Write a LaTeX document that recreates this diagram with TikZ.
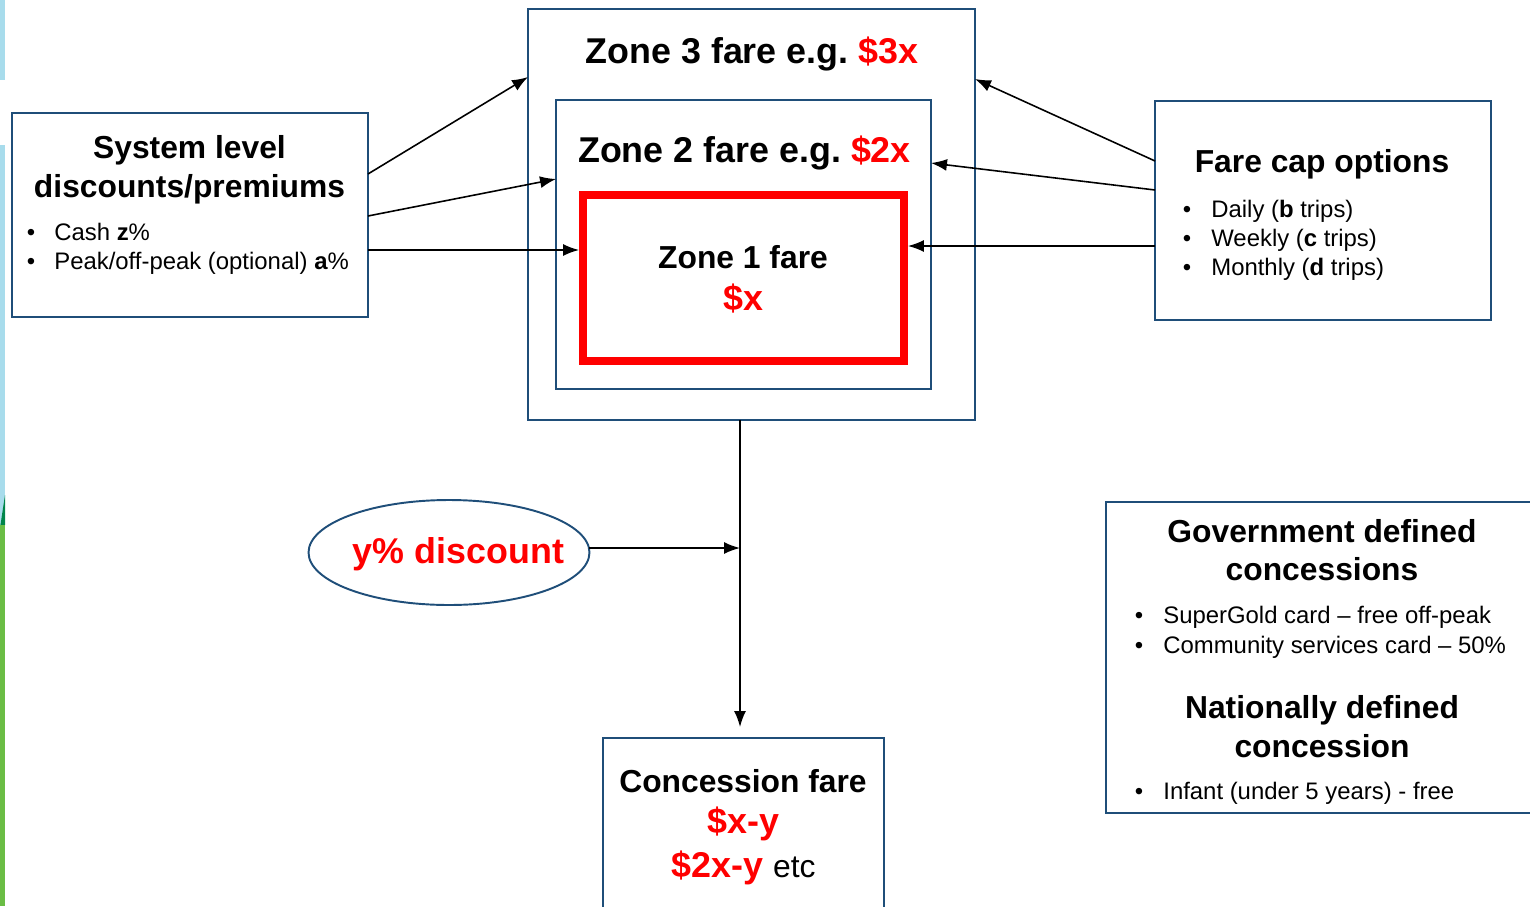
\documentclass[tikz,border=0pt]{standalone}
\usepackage{fontspec}
\setmainfont{Liberation Sans}
\usetikzlibrary{shapes.geometric,arrows.meta}
\frenchspacing

\definecolor{navy}{RGB}{31,78,121}
\definecolor{farered}{RGB}{255,0,0}
\definecolor{slideblue}{RGB}{168,220,236}
\definecolor{slidegreen}{RGB}{106,189,69}
\definecolor{slidedark}{RGB}{0,133,74}

\newcommand{\zonefont}{\fontsize{20.4pt}{24pt}\selectfont\bfseries}
\newcommand{\headfont}{\fontsize{18.1pt}{21pt}\selectfont\bfseries}
\newcommand{\itemfont}{\fontsize{13.6pt}{16pt}\selectfont}

\begin{document}
\begin{tikzpicture}[x=0.02cm,y=-0.02cm]

    % styles
    \tikzstyle{panel} = [draw=navy,line width=1.1pt,inner sep=0pt,outer sep=0pt]
    \tikzstyle{zonebox} = [draw=farered,line width=4.5pt,inner sep=0pt]
    \tikzstyle{head} = [anchor=base,inner sep=0pt,font=\headfont]
    \tikzstyle{zonehead} = [anchor=base,inner sep=0pt,font=\zonefont]
    \tikzstyle{item} = [anchor=base west,inner sep=0pt,font=\itemfont]
    \tikzstyle{dot} = [anchor=base,inner sep=0pt,font=\itemfont]
    \tikzstyle{arr} = [line width=0.9pt,-{Latex[length=3.2mm,width=2.4mm]}]

    \useasboundingbox (0,0) rectangle (1530,906);

    % slide edge
    \fill[slideblue] (0,0) rectangle (5,80);
    \fill[slideblue] (0,145) rectangle (5,525);
    \fill[slidedark] (0,528) -- (5,495) -- (5,525) -- (0,525) -- cycle;
    \fill[slidegreen] (0,525) rectangle (5,906);

    % zones
    \node[panel,minimum width=8.94cm,minimum height=8.22cm] (zone3) at (751.5,214.5) {};
    \node[panel,minimum width=7.5cm,minimum height=5.78cm] (zone2) at (743.5,244.5) {};
    \node[zonebox,minimum width=6.42cm,minimum height=3.32cm] (zone1) at (743.5,278) {};
    \node[zonehead] (z3t) at (752,63) {Zone 3 fare e.g. \textcolor{farered}{\$3x}};
    \node[zonehead] (z2t) at (744.5,162) {Zone 2 fare e.g. \textcolor{farered}{\$2x}};
    \node[head] (z1t) at (743,268) {Zone 1 fare};
    \node[head,text=farered,font=\zonefont] (z1p) at (743.5,310) {\$x};

    % system level
    \node[panel,minimum width=7.12cm,minimum height=4.08cm] (sys) at (190,215) {};
    \node[head] (syst1) at (189.5,158) {System level};
    \node[head] (syst2) at (189.5,197) {discounts/premiums};
    \node[dot] (sysd1) at (31,240) {\textbullet};
    \node[item] (sysi1) at (54,240) {Cash \textbf{z}\%};
    \node[dot] (sysd2) at (31,269) {\textbullet};
    \node[item] (sysi2) at (54,269) {Peak/off-peak (optional) \textbf{a}\%};

    % fare caps
    \node[panel,minimum width=6.72cm,minimum height=4.38cm] (cap) at (1323,210.5) {};
    \node[head] (capt) at (1322,172) {Fare cap options};
    \foreach \i/\txt in {0/{Daily (\textbf{b} trips)},1/{Weekly (\textbf{c} trips)},2/{Monthly (\textbf{d} trips)}} {
        \node[dot] (capd\i) at (1187,217+\i*29) {\textbullet};
        \node[item] (capi\i) at (1211,217+\i*29) {\txt};
    }

    % concessions
    \node[panel,minimum width=8.78cm,minimum height=6.22cm] (gov) at (1325.5,657.5) {};
    \node[head] (govt1) at (1322,542) {Government defined};
    \node[head] (govt2) at (1322,580) {concessions};
    \node[dot] (govd1) at (1139,623) {\textbullet};
    \node[item] (govi1) at (1163,623) {SuperGold card -- free off-peak};
    \node[dot] (govd2) at (1139,653) {\textbullet};
    \node[item] (govi2) at (1163,653) {Community services card -- 50\%};
    \node[head] (natt1) at (1322,718) {Nationally defined};
    \node[head] (natt2) at (1322,757) {concession};
    \node[dot] (natd1) at (1139,799) {\textbullet};
    \node[item] (nati1) at (1163,799) {Infant (under 5 years) - free};

    % discount and result
    \node[panel,ellipse,minimum width=5.62cm,minimum height=2.1cm] (disc) at (449,552.5) {};
    \node[zonehead,text=farered] (disct) at (458.5,563) {y\% discount};
    \node[panel,minimum width=5.62cm,minimum height=3.64cm] (conc) at (743.5,829) {};
    \node[head] (conct) at (743,792) {Concession fare};
    \node[zonehead,text=farered] (concx) at (743.5,833) {\$x-y};
    \node[zonehead] (conc2) at (743.5,877) {\textcolor{farered}{\$2x-y} \fontsize{18.1pt}{21pt}\selectfont\mdseries etc};

    % arrows
    \coordinate (drop) at (740,727);
    \draw[arr] (sys.east |- 0,174) -- (zone3.west |- 0,77);
    \draw[arr] (sys.east |- 0,216) -- (zone2.west |- 0,179);
    \draw[arr] (sys.east |- 0,250) -- (zone1.west |- 0,250);
    \draw[arr] (cap.west |- 0,161) -- (zone3.east |- 0,79);
    \draw[arr] (cap.west |- 0,190) -- (zone2.east |- 0,163);
    \draw[arr] (cap.west |- 0,246) -- (zone1.east |- 0,246);
    \draw[arr] (zone3.south -| drop) -- (drop);
    \draw[arr] (disc.east |- 0,548) -- (drop |- 0,548);
\end{tikzpicture}
\end{document}
